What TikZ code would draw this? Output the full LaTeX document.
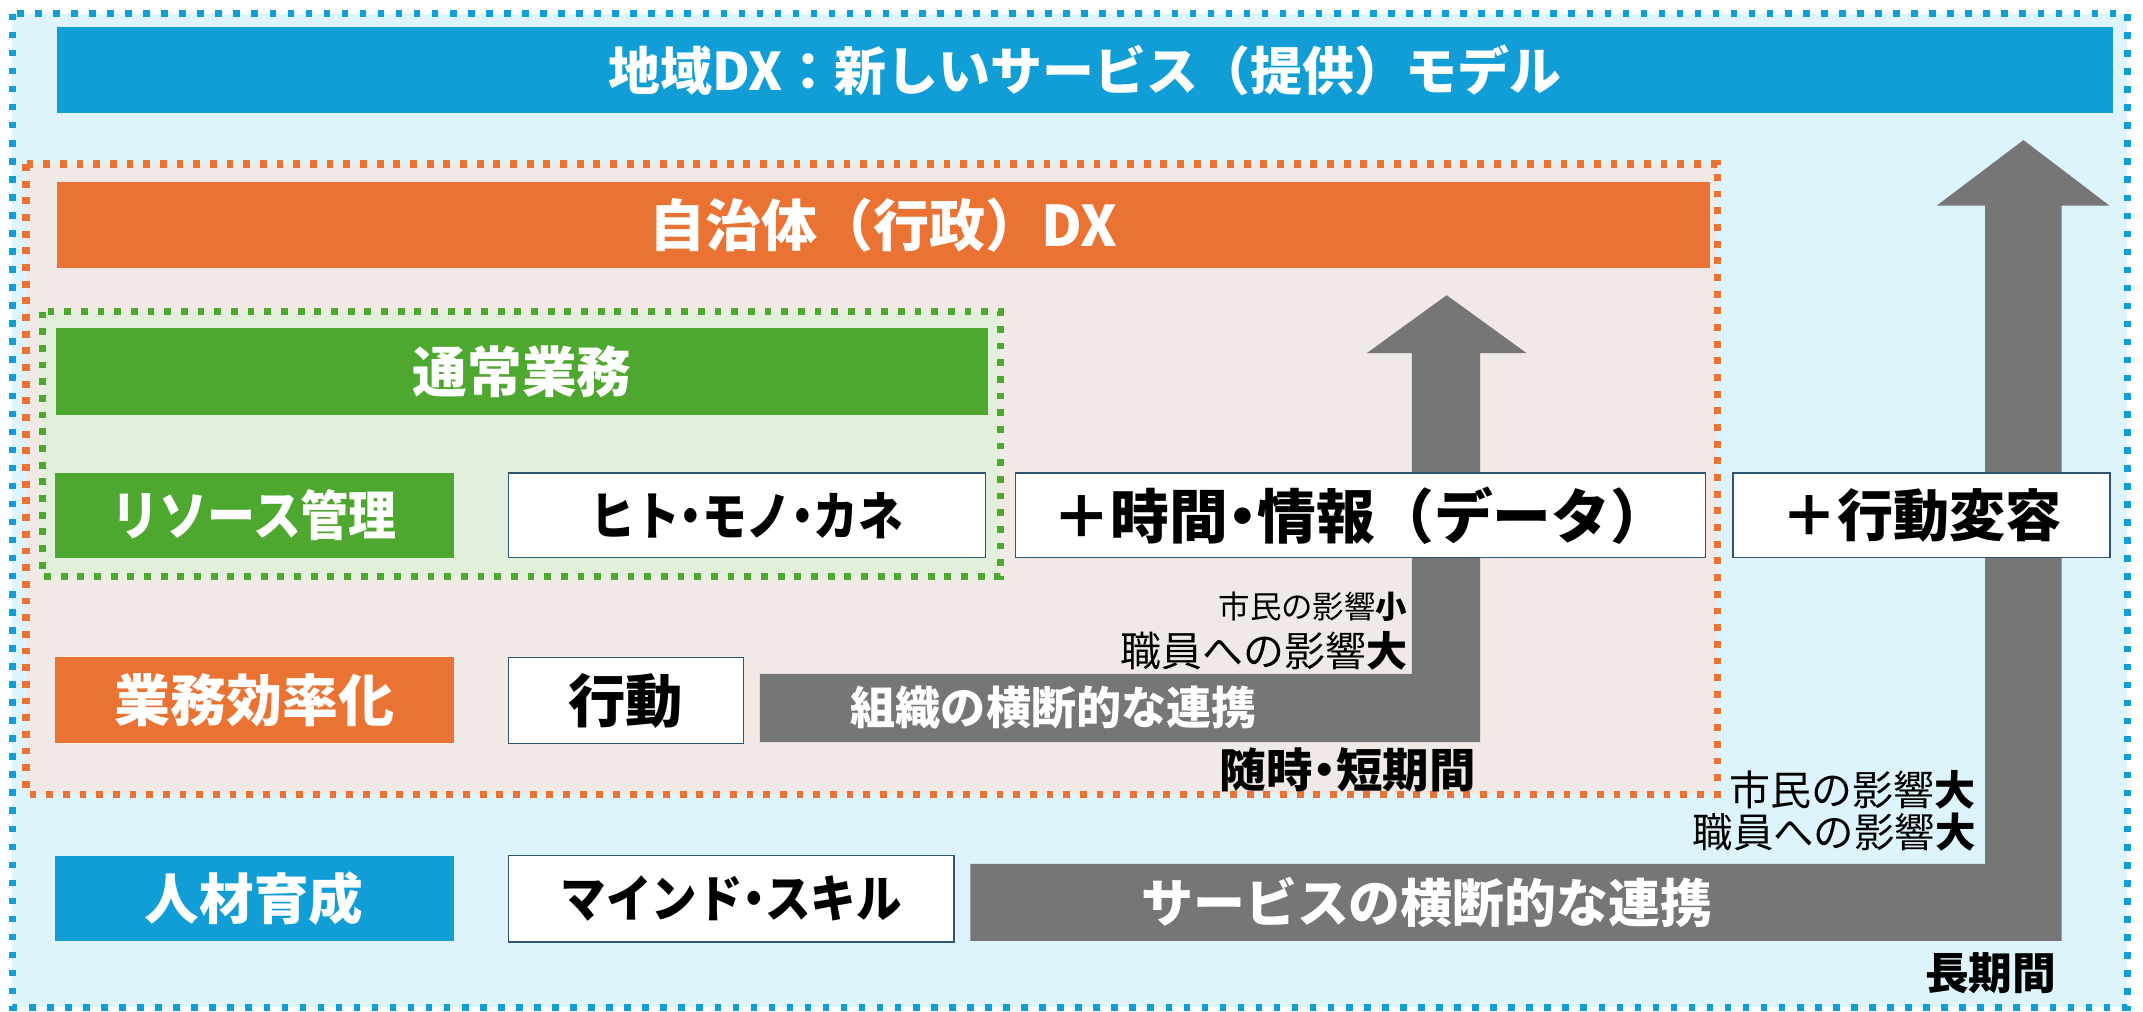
\documentclass[tikz,border=0pt]{standalone}
\usepackage{fontspec}
\usepackage{graphicx}
\setmainfont{Noto Sans CJK JP}
\usetikzlibrary{fit}
\definecolor{dxblue}{RGB}{17,158,214}
\definecolor{bgblue}{RGB}{222,244,252}
\definecolor{dxorange}{RGB}{234,114,50}
\definecolor{bgpink}{RGB}{241,233,230}
\definecolor{dxgreen}{RGB}{78,167,46}
\definecolor{bggreen}{RGB}{226,239,218}
\definecolor{dxgray}{RGB}{118,118,118}
\definecolor{edgeblue}{RGB}{46,84,118}
\newcommand\fs[1]{\fontsize{#1}{#1}\selectfont}
\newcommand\nk{\makebox[0.5em][c]{・}}
\newcommand\sqz[2]{\scalebox{#1}[1]{#2}}
\begin{document}
\begin{tikzpicture}[x=0.5pt,y=-0.5pt,
  shp/.style={inner sep=0pt},
  bartext/.style={inner sep=0pt, text=white, font=\bfseries},
  wtext/.style={inner sep=0pt, text=black, font=\bfseries},
  wbox/.style={inner sep=0pt, fill=white, draw=edgeblue, line width=0.6pt},
  frame/.style={line width=2.6pt, dash pattern=on 2.5pt off 3.6pt},
  lbl/.style={inner sep=0pt, anchor=east},
  arrowshape/.style={fill=dxgray}]
\useasboundingbox (0,0) rectangle (1568,739.8);
% outer frame
\draw[frame, draw=dxblue, fill=bgblue, dash pattern=on 2.4pt off 4.2pt] (9,10) rectangle (1556.5,737);
\node[shp, fill=dxblue, fit={(42,19.5)(1546,83)}] (title) {};
\node[bartext] (title-t) at (title.center) {\fs{19pt}地域DX：新しいサービス（提供）モデル};
% orange frame
\draw[frame, draw=dxorange, fill=bgpink] (19,120) rectangle (1256.5,581);
\node[shp, fill=dxorange, fit={(42,133)(1251,196)}] (jichitai) {};
\node[bartext] (jichitai-t) at (jichitai.center) {\fs{20.5pt}自治体（行政）DX};
% green frame
\draw[frame, draw=dxgreen, fill=bggreen] (31,228) rectangle (732,422);
\node[shp, fill=dxgreen, fit={(41,240)(723,304)}] (tsujo) {};
\node[bartext] (tsujo-t) at (tsujo.center) {\fs{20pt}通常業務};
% arrows
\fill[arrowshape] (556,493) -- (1033,493) -- (1033,258.4) -- (1000,258.4) -- (1058.5,216) -- (1117,258.4) -- (1083,258.4) -- (1083,543) -- (556,543) -- cycle;
\fill[arrowshape] (710,632) -- (1452.5,632) -- (1452.5,150.5) -- (1417,150.5) -- (1480.5,102.5) -- (1543.5,150.5) -- (1508.5,150.5) -- (1508.5,688.5) -- (710,688.5) -- cycle;
\node[bartext] (soshiki) at (771,518) {\fs{16.5pt}組織の横断的な連携};
\node[bartext] (service) at (1044,660) {\fs{19pt}サービスの横断的な連携};
% row 1
\node[shp, fill=dxgreen, fit={(40,346)(332,408)}] (resource) {};
\node[bartext] (resource-t) at (resource.center) {\fs{19.5pt}\sqz{0.9}{リソース管理}};
\node[wbox, fit={(372,346)(721,408)}] (hito) {};
\node[wtext] (hito-t) at (hito.center) {\fs{19pt}\sqz{0.86}{ヒト\nk モノ\nk カネ}};
\node[wbox, fit={(743,346)(1248,408)}] (jikan) {};
\node[wtext] (jikan-t) at (jikan.center) {\fs{21.5pt}＋時間\nk 情報（データ）};
\node[wbox, fit={(1268,346)(1544,408)}] (henyo) {};
\node[wtext] (henyo-t) at (henyo.center) {\fs{20.5pt}＋行動変容};
% row 2
\node[shp, fill=dxorange, fit={(40,481)(332,543.5)}] (koritsu) {};
\node[bartext] (koritsu-t) at (koritsu.center) {\fs{20.5pt}業務効率化};
\node[wbox, fit={(372,481)(544,544)}] (kodo) {};
\node[wtext] (kodo-t) at (kodo.center) {\fs{21pt}行動};
% row 3
\node[shp, fill=dxblue, fit={(40,626)(332,688.5)}] (jinzai) {};
\node[bartext] (jinzai-t) at (jinzai.center) {\fs{20pt}人材育成};
\node[wbox, fit={(372,626)(698,689)}] (mind) {};
\node[wtext] (mind-t) at (mind.center) {\fs{18.5pt}\sqz{0.9}{マインド\nk スキル}};
% labels
\node[lbl] (shimin1) at (1030,444) {\fs{11.5pt}市民の影響\textbf{小}};
\node[lbl] (shokuin1) at (1030,476) {\fs{15pt}職員への影響\textbf{大}};
\node[lbl, font=\bfseries] (tanki) at (1080,563.5) {\fs{17pt}随時\nk 短期間};
\node[lbl] (shimin2) at (1446,578) {\fs{15pt}市民の影響\textbf{大}};
\node[lbl] (shokuin2) at (1446,609) {\fs{14.8pt}職員への影響\textbf{大}};
\node[lbl, font=\bfseries] (choki) at (1505,712) {\fs{16pt}長期間};
\end{tikzpicture}
\end{document}
